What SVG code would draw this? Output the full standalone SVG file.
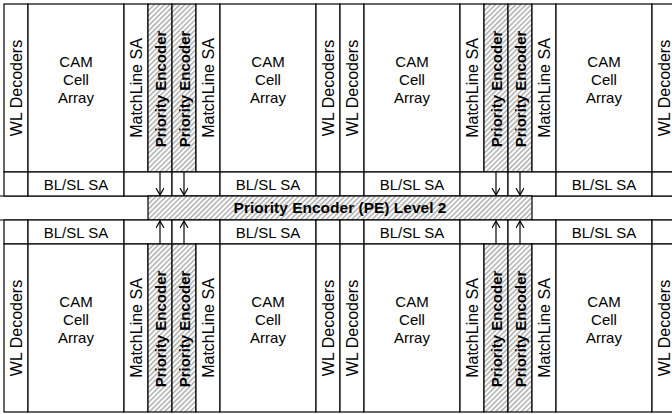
<svg xmlns="http://www.w3.org/2000/svg" width="672" height="414" viewBox="0 0 672 414">
<style>
.c{fill:#fff;stroke:#000;stroke-width:1.2}
.h{fill:url(#hatch);stroke:#000;stroke-width:1.2}
text{font-family:"Liberation Sans",Arial,sans-serif;fill:#000}
.t{font-size:15px;text-anchor:middle}
.r{font-size:16px;text-anchor:middle;dominant-baseline:central}
.b{font-size:15px;font-weight:bold;text-anchor:middle;dominant-baseline:central}
.lb{font-size:15.5px;font-weight:bold;text-anchor:middle}
.a{stroke:#000;stroke-width:1.2;fill:none;marker-end:url(#ah)}
</style>
<defs>
<pattern id="hatch" patternUnits="userSpaceOnUse" width="3.6" height="3.6" patternTransform="rotate(45)">
<rect width="3.6" height="3.6" fill="#fff"/>
<line x1="0.8" y1="0" x2="0.8" y2="3.6" stroke="#9a9a9a" stroke-width="1.2"/>
</pattern>
<marker id="ah" markerUnits="userSpaceOnUse" markerWidth="10" markerHeight="10" refX="7" refY="4" orient="auto">
<path d="M0,0 L7,4 L0,8" fill="none" stroke="#000" stroke-width="1.2"/>
</marker>
</defs>
<rect width="672" height="414" fill="#fff"/>
<line x1="0" y1="196" x2="672" y2="196" stroke="#000" stroke-width="1.2"/>
<line x1="0" y1="220" x2="672" y2="220" stroke="#000" stroke-width="1.2"/>

<!-- Top array -->
<g id="t-wl1"><rect class="c" x="4" y="4" width="24" height="168"/><text class="r" transform="translate(16,88) rotate(-90)">WL Decoders</text></g>
<g id="t-cam1"><rect class="c" x="28" y="4" width="96" height="168"/><text class="t" x="76" y="67">CAM</text><text class="t" x="76" y="85">Cell</text><text class="t" x="76" y="103">Array</text></g>
<g id="t-ml1"><rect class="c" x="124" y="4" width="24" height="168"/><text class="r" transform="translate(136,88) rotate(-90)">MatchLine SA</text></g>
<g id="t-pe1"><rect class="h" x="148" y="4" width="24" height="168"/><text class="b" transform="translate(160,89) rotate(-90)">Priority Encoder</text></g>
<g id="t-pe2"><rect class="h" x="172" y="4" width="24" height="168"/><text class="b" transform="translate(184,89) rotate(-90)">Priority Encoder</text></g>
<g id="t-ml2"><rect class="c" x="196" y="4" width="24" height="168"/><text class="r" transform="translate(208,88) rotate(-90)">MatchLine SA</text></g>
<g id="t-cam2"><rect class="c" x="220" y="4" width="96" height="168"/><text class="t" x="268" y="67">CAM</text><text class="t" x="268" y="85">Cell</text><text class="t" x="268" y="103">Array</text></g>
<g id="t-wl2"><rect class="c" x="316" y="4" width="24" height="168"/><text class="r" transform="translate(328,88) rotate(-90)">WL Decoders</text></g>
<g id="t-wl3"><rect class="c" x="340" y="4" width="24" height="168"/><text class="r" transform="translate(352,88) rotate(-90)">WL Decoders</text></g>
<g id="t-cam3"><rect class="c" x="364" y="4" width="96" height="168"/><text class="t" x="412" y="67">CAM</text><text class="t" x="412" y="85">Cell</text><text class="t" x="412" y="103">Array</text></g>
<g id="t-ml3"><rect class="c" x="460" y="4" width="24" height="168"/><text class="r" transform="translate(472,88) rotate(-90)">MatchLine SA</text></g>
<g id="t-pe3"><rect class="h" x="484" y="4" width="24" height="168"/><text class="b" transform="translate(496,89) rotate(-90)">Priority Encoder</text></g>
<g id="t-pe4"><rect class="h" x="508" y="4" width="24" height="168"/><text class="b" transform="translate(520,89) rotate(-90)">Priority Encoder</text></g>
<g id="t-ml4"><rect class="c" x="532" y="4" width="24" height="168"/><text class="r" transform="translate(544,88) rotate(-90)">MatchLine SA</text></g>
<g id="t-cam4"><rect class="c" x="556" y="4" width="96" height="168"/><text class="t" x="604" y="67">CAM</text><text class="t" x="604" y="85">Cell</text><text class="t" x="604" y="103">Array</text></g>
<g id="t-wl4"><rect class="c" x="652" y="4" width="24" height="168"/><text class="r" transform="translate(664,88) rotate(-90)">WL Decoders</text></g>

<!-- Top BL/SL row -->
<g id="t-bl-blank1"><rect class="c" x="4" y="172" width="24" height="24"/></g>
<g id="t-bl1"><rect class="c" x="28" y="172" width="96" height="24"/><text class="t" x="76" y="189.5">BL/SL SA</text></g>
<g id="t-bl-blank2"><rect class="c" x="124" y="172" width="48" height="24"/></g>
<g id="t-bl-blank3"><rect class="c" x="172" y="172" width="48" height="24"/></g>
<g id="t-bl2"><rect class="c" x="220" y="172" width="96" height="24"/><text class="t" x="268" y="189.5">BL/SL SA</text></g>
<g id="t-bl-blank4"><rect class="c" x="316" y="172" width="24" height="24"/></g>
<g id="t-bl-blank5"><rect class="c" x="340" y="172" width="24" height="24"/></g>
<g id="t-bl3"><rect class="c" x="364" y="172" width="96" height="24"/><text class="t" x="412" y="189.5">BL/SL SA</text></g>
<g id="t-bl-blank6"><rect class="c" x="460" y="172" width="48" height="24"/></g>
<g id="t-bl-blank7"><rect class="c" x="508" y="172" width="48" height="24"/></g>
<g id="t-bl4"><rect class="c" x="556" y="172" width="96" height="24"/><text class="t" x="604" y="189.5">BL/SL SA</text></g>
<g id="t-bl-blank8"><rect class="c" x="652" y="172" width="24" height="24"/></g>

<!-- PE Level 2 -->
<g id="pe-level2"><rect class="h" x="148" y="196" width="384" height="24"/><text class="lb" x="340" y="213">Priority Encoder (PE) Level 2</text></g>

<!-- Bottom BL/SL row -->
<g id="b-bl-blank1"><rect class="c" x="4" y="220" width="24" height="24"/></g>
<g id="b-bl1"><rect class="c" x="28" y="220" width="96" height="24"/><text class="t" x="76" y="237.5">BL/SL SA</text></g>
<g id="b-bl-blank2"><rect class="c" x="124" y="220" width="48" height="24"/></g>
<g id="b-bl-blank3"><rect class="c" x="172" y="220" width="48" height="24"/></g>
<g id="b-bl2"><rect class="c" x="220" y="220" width="96" height="24"/><text class="t" x="268" y="237.5">BL/SL SA</text></g>
<g id="b-bl-blank4"><rect class="c" x="316" y="220" width="24" height="24"/></g>
<g id="b-bl-blank5"><rect class="c" x="340" y="220" width="24" height="24"/></g>
<g id="b-bl3"><rect class="c" x="364" y="220" width="96" height="24"/><text class="t" x="412" y="237.5">BL/SL SA</text></g>
<g id="b-bl-blank6"><rect class="c" x="460" y="220" width="48" height="24"/></g>
<g id="b-bl-blank7"><rect class="c" x="508" y="220" width="48" height="24"/></g>
<g id="b-bl4"><rect class="c" x="556" y="220" width="96" height="24"/><text class="t" x="604" y="237.5">BL/SL SA</text></g>
<g id="b-bl-blank8"><rect class="c" x="652" y="220" width="24" height="24"/></g>

<!-- Bottom array -->
<g id="b-wl1"><rect class="c" x="4" y="244" width="24" height="168"/><text class="r" transform="translate(16,328) rotate(-90)">WL Decoders</text></g>
<g id="b-cam1"><rect class="c" x="28" y="244" width="96" height="168"/><text class="t" x="76" y="307">CAM</text><text class="t" x="76" y="325">Cell</text><text class="t" x="76" y="343">Array</text></g>
<g id="b-ml1"><rect class="c" x="124" y="244" width="24" height="168"/><text class="r" transform="translate(136,328) rotate(-90)">MatchLine SA</text></g>
<g id="b-pe1"><rect class="h" x="148" y="244" width="24" height="168"/><text class="b" transform="translate(160,329) rotate(-90)">Priority Encoder</text></g>
<g id="b-pe2"><rect class="h" x="172" y="244" width="24" height="168"/><text class="b" transform="translate(184,329) rotate(-90)">Priority Encoder</text></g>
<g id="b-ml2"><rect class="c" x="196" y="244" width="24" height="168"/><text class="r" transform="translate(208,328) rotate(-90)">MatchLine SA</text></g>
<g id="b-cam2"><rect class="c" x="220" y="244" width="96" height="168"/><text class="t" x="268" y="307">CAM</text><text class="t" x="268" y="325">Cell</text><text class="t" x="268" y="343">Array</text></g>
<g id="b-wl2"><rect class="c" x="316" y="244" width="24" height="168"/><text class="r" transform="translate(328,328) rotate(-90)">WL Decoders</text></g>
<g id="b-wl3"><rect class="c" x="340" y="244" width="24" height="168"/><text class="r" transform="translate(352,328) rotate(-90)">WL Decoders</text></g>
<g id="b-cam3"><rect class="c" x="364" y="244" width="96" height="168"/><text class="t" x="412" y="307">CAM</text><text class="t" x="412" y="325">Cell</text><text class="t" x="412" y="343">Array</text></g>
<g id="b-ml3"><rect class="c" x="460" y="244" width="24" height="168"/><text class="r" transform="translate(472,328) rotate(-90)">MatchLine SA</text></g>
<g id="b-pe3"><rect class="h" x="484" y="244" width="24" height="168"/><text class="b" transform="translate(496,329) rotate(-90)">Priority Encoder</text></g>
<g id="b-pe4"><rect class="h" x="508" y="244" width="24" height="168"/><text class="b" transform="translate(520,329) rotate(-90)">Priority Encoder</text></g>
<g id="b-ml4"><rect class="c" x="532" y="244" width="24" height="168"/><text class="r" transform="translate(544,328) rotate(-90)">MatchLine SA</text></g>
<g id="b-cam4"><rect class="c" x="556" y="244" width="96" height="168"/><text class="t" x="604" y="307">CAM</text><text class="t" x="604" y="325">Cell</text><text class="t" x="604" y="343">Array</text></g>
<g id="b-wl4"><rect class="c" x="652" y="244" width="24" height="168"/><text class="r" transform="translate(664,328) rotate(-90)">WL Decoders</text></g>

<!-- Connectors -->
<g id="connectors">
<line class="a" x1="160" y1="172" x2="160" y2="195"/>
<line class="a" x1="184" y1="172" x2="184" y2="195"/>
<line class="a" x1="496" y1="172" x2="496" y2="195"/>
<line class="a" x1="520" y1="172" x2="520" y2="195"/>
<line class="a" x1="160" y1="244" x2="160" y2="221"/>
<line class="a" x1="184" y1="244" x2="184" y2="221"/>
<line class="a" x1="496" y1="244" x2="496" y2="221"/>
<line class="a" x1="520" y1="244" x2="520" y2="221"/>
</g>
</svg>
